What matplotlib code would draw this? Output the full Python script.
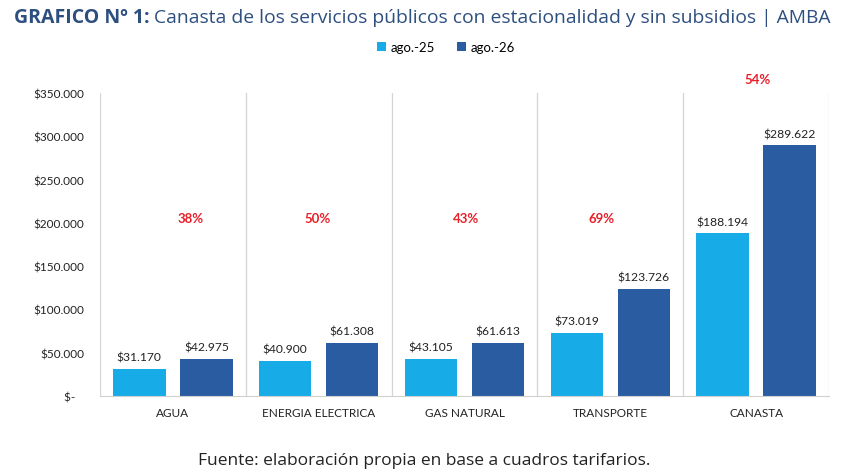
import matplotlib
matplotlib.use("Agg")
import matplotlib.pyplot as plt
import numpy as np

categories = ["AGUA", "ENERGIA ELECTRICA", "GAS NATURAL", "TRANSPORTE", "CANASTA"]
ago25 = [31170, 40900, 43105, 73019, 188194]
ago26 = [42975, 61308, 61613, 123726, 289622]
pct_labels = ["38%", "50%", "43%", "69%", "54%"]
pct_y = [206000, 206000, 206000, 206000, 366000]
series_names = ["ago.-25", "ago.-26"]
yticks = [0, 50000, 100000, 150000, 200000, 250000, 300000, 350000]

def fmt(v):
    return "$" + f"{v:,.0f}".replace(",", ".")

def fmt_tick(v):
    return "$-   " if v == 0 else fmt(v)

c_light = "#17ACE8"
c_dark = "#2A5CA1"
c_title = "#2D4F80"

fig = plt.figure(figsize=(8.48, 4.77), dpi=100)
ax = fig.add_axes([100/848, 1-397/477, 729/848, 303/477])

x = np.arange(len(categories))
w = 0.36
off = 0.23
b1 = ax.bar(x - off, ago25, w, color=c_light, label=series_names[0])
b2 = ax.bar(x + off, ago26, w, color=c_dark, label=series_names[1])

font = "Lato"
for rects, vals in ((b1, ago25), (b2, ago26)):
    for r, v in zip(rects, vals):
        ax.text(r.get_x() + r.get_width()/2, v + 7000, fmt(v), ha="center", va="bottom",
                fontsize=8.7, family=font, color="#222222")

pct_dx = [0.12, -0.01, 0.01, -0.06, 0.01]
for i, (t, yv) in enumerate(zip(pct_labels, pct_y)):
    ax.text(x[i] + pct_dx[i], yv, t, ha="center", va="center", fontsize=9.5, fontweight="bold",
            color="#E8202A", family=font, clip_on=False)

ax.set_xlim(-0.5, len(categories) - 0.5)
ax.set_ylim(0, 350000)
ax.set_yticks(yticks)
ax.set_yticklabels([fmt_tick(v) for v in yticks], family=font, fontsize=8.5)
ax.set_xticks(x)
ax.set_xticklabels(categories, family=font, fontsize=8.5)
ax.tick_params(axis="both", length=0, colors="#222222")
ax.tick_params(axis="x", pad=8)
ax.tick_params(axis="y", pad=11.5)

for s in ("top", "right", "left"):
    ax.spines[s].set_visible(False)
ax.spines["bottom"].set_color("#D0D0D0")
for b in np.arange(-0.5, len(categories) + 0.5, 1.0):
    ax.axvline(b, color="#D5D5D5", lw=0.9, zorder=0)

leg = fig.legend(handles=[b1, b2], labels=series_names, loc="center", bbox_to_anchor=(446/848, 1-48/477),
                 ncol=2, frameon=False, prop={"family": font, "size": 9.5},
                 handlelength=0.7, handleheight=0.7, columnspacing=1.6, handletextpad=0.4)

# Title
t1 = fig.text(14/848, 1-18/477, "GRAFICO Nº 1:", fontsize=14, fontweight="bold", color=c_title,
              family="Open Sans", va="center", ha="left")
fig.canvas.draw()
bb = t1.get_window_extent()
fig.text((bb.x1 + 4)/848, 1-18/477, "Canasta de los servicios públicos con estacionalidad y sin subsidios | AMBA",
         fontsize=13.9, color=c_title, family="Open Sans", va="center", ha="left")

fig.text(424/848, 1-461/477, "Fuente: elaboración propia en base a cuadros tarifarios.",
         fontsize=12.5, color="#222222", family="Open Sans", ha="center", va="center")

fig.savefig("out.png", dpi=100, facecolor="white")
